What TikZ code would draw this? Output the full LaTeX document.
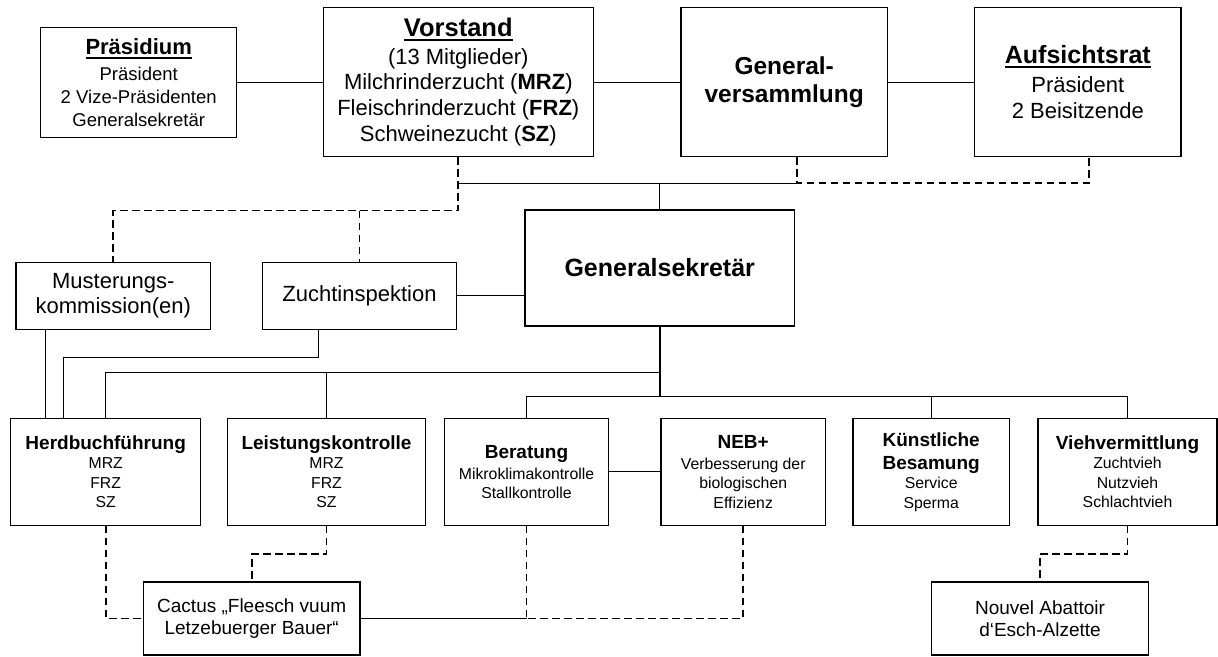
\documentclass[tikz,border=0pt]{standalone}
\usepackage{fontspec}
\setmainfont{Liberation Sans}
\usetikzlibrary{calc}
% underlined heading with a heavy rule
\newcommand{\heading}[1]{\setbox0=\hbox{#1}\leavevmode\rlap{\rule[-4.5pt]{\wd0}{2pt}}\box0}
\newcommand{\depttitle}[1]{{\fontsize{19}{23}\selectfont\bfseries #1}}
\tikzset{
    topbox/.style={rectangle, draw, line width=1.2pt, fill=white, inner sep=0pt, align=center},
    deptbox/.style={topbox, minimum height=107pt, font=\fontsize{15.8}{19.5}\selectfont},
    outbox/.style={topbox, minimum height=73pt, font=\fontsize{19}{22.3}\selectfont},
    link/.style={line width=0.9pt},
    mainlink/.style={line width=1.6pt},
    dlink/.style={line width=1.7pt, dash pattern=on 7.5pt off 4.5pt},
}

\begin{document}
\begin{tikzpicture}[x=1pt, y=-1pt]
    \fill[white] (0,0) rectangle (1218,656);
    \useasboundingbox (0,0) rectangle (1218,656);

    % top row
    \node[topbox, minimum width=196pt, minimum height=110pt, font=\fontsize{18.5}{23}\selectfont] (praes) at (138.7,82.3)
        {\heading{\fontsize{22}{25}\selectfont\bfseries Präsidium}\\[2.7pt] Präsident\\ 2 Vize-Präsidenten\\ Generalsekretär};
    \node[topbox, minimum width=270pt, minimum height=149.4pt, font=\fontsize{22}{25.6}\selectfont] (vorst) at (458.3,82)
        {\heading{\fontsize{25.5}{29}\selectfont\bfseries Vorstand}\\[2pt] (13 Mitglieder)\\ Milchrinderzucht (\textbf{MRZ})\\ Fleischrinderzucht (\textbf{FRZ})\\ Schweinezucht (\textbf{SZ})};
    \node[topbox, minimum width=206.3pt, minimum height=149.4pt, font=\fontsize{24.5}{28.3}\selectfont\bfseries] (gv) at (784.2,82)
        {General-\\ versammlung};
    \node[topbox, minimum width=206.3pt, minimum height=149.4pt, font=\fontsize{22}{25.7}\selectfont] (aufs) at (1077.8,82)
        {\heading{\fontsize{25}{29}\selectfont\bfseries Aufsichtsrat}\\[3.6pt] Präsident\\ 2 Beisitzende};

    % middle row
    \node[topbox, minimum width=194.7pt, minimum height=67pt, font=\fontsize{22}{25}\selectfont] (muster) at (113.3,295.8)
        {Musterungs-\\ kommission(en)};
    \node[topbox, minimum width=194.4pt, minimum height=67pt, font=\fontsize{22}{25}\selectfont] (zucht) at (359.5,295.8)
        {Zuchtinspektion};
    \node[topbox, minimum width=269.3pt, minimum height=116pt, font=\fontsize{25}{29}\selectfont\bfseries] (gs) at (659.7,268)
        {Generalsekretär};

    % departments
    \node[deptbox, minimum width=190pt] (herd) at (105.7,471.8)
        {\depttitle{Herdbuchführung}\\ MRZ\\ FRZ\\ SZ};
    \node[deptbox, minimum width=197.6pt] (leist) at (326.5,471.8)
        {\depttitle{Leistungskontrolle}\\ MRZ\\ FRZ\\ SZ};
    \node[deptbox, minimum width=164.4pt] (berat) at (526.5,471.8)
        {\depttitle{Beratung}\\[1.5pt] Mikroklimakontrolle\\ Stallkontrolle};
    \node[deptbox, minimum width=164.3pt] (neb) at (743.2,471.8)
        {\depttitle{NEB+}\\[1pt] Verbesserung der\\ biologischen\\ Effizienz};
    \node[deptbox, minimum width=156.3pt] (kuenst) at (931.2,471.8)
        {\depttitle{Künstliche}\\[3.5pt] \depttitle{Besamung}\\ Service\\ Sperma};
    \node[deptbox, minimum width=179pt] (vieh) at (1127.5,471.8)
        {\depttitle{Viehvermittlung}\\ Zuchtvieh\\ Nutzvieh\\ Schlachtvieh};

    % partners
    \node[outbox, minimum width=216.7pt] (cactus) at (251.7,618.5)
        {Cactus „Fleesch vuum\\ Letzebuerger Bauer“};
    \node[outbox, minimum width=217.4pt] (abatt) at (1040,618.5)
        {Nouvel Abattoir\\ d‘Esch-Alzette};

    % top connections
    \draw[link] (praes.east) -- (praes.east -| vorst.west);
    \draw[link] (vorst.east) -- (gv.west);
    \draw[link] (gv.east) -- (aufs.west);
    \draw[dlink] (vorst.south) -- ++(0,53.3) coordinate (vsplit) -| (muster.north);
    \draw[dlink] (vsplit -| zucht.north) -- (zucht.north);
    \coordinate (gvfoot) at ($(gv.south)+(12.5,0)$);
    \coordinate (aufsfoot) at ($(aufs.south)+(11.5,0)$);
    \draw[dlink] (gvfoot) -- ++(0,26) coordinate (gvbus) -| (aufsfoot);
    \path (vorst.south) ++(0,26) coordinate (vbus);
    \draw[link] (vbus) -- (gvbus);
    \draw[link] (gs.north) -- (gs.north |- vbus);

    % middle connections
    \draw[link] (zucht.east) -- (zucht.east -| gs.west);
    \coordinate (mfoot) at ($(muster.south west)+(29.7,0)$);
    \draw[link] (mfoot) -- (mfoot |- herd.north);
    \coordinate (zfoot) at ($(zucht.south)+(-41.2,0)$);
    \draw[link] (zfoot) -- ++(0,27.7) -| ($(herd.north west)+(53.6,0)$);
    \draw[mainlink] (gs.south) -- ++(0,70) coordinate (gsfoot);
    \path (gs.south) ++(0,46) coordinate (lbus);
    \draw[link] (lbus) -| (herd.north);
    \draw[link] (lbus -| leist.north) -- (leist.north);
    \draw[link] (berat.north) |- (gsfoot) -| (vieh.north);
    \draw[link] (gsfoot -| kuenst.north) -- (kuenst.north);
    \draw[link] (berat.east) -- (neb.west);

    % bottom connections
    \draw[dlink] (herd.south) |- (cactus.west);
    \draw[dlink] (leist.south) -- ++(0,28.4) -| (cactus.north);
    \coordinate (cbus) at (berat.south |- cactus.east);
    \draw[mainlink] (cactus.east) -- (cbus);
    \draw[dlink] (berat.south) -- (cbus);
    \draw[dlink] (neb.south) |- (cbus);
    \draw[dlink] (vieh.south) -- ++(0,28.4) -| (abatt.north);
\end{tikzpicture}
\end{document}
